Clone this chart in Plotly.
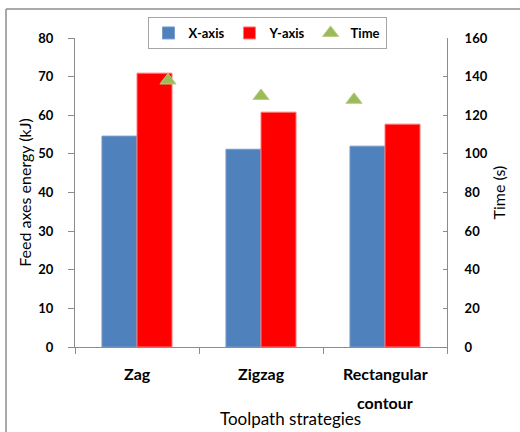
import plotly.graph_objects as go

categories = ["Zag", "Zigzag", "Rectangular contour"]
tick_labels = ["Zag", "Zigzag", "Rectangular<br>contour"]
x_axis_energy = [54.6, 51.2, 52.0]
y_axis_energy = [70.9, 60.8, 57.7]
time_s = [138, 130, 128]

FONT = "Lato"
AX = "#8C8C8C"
W, H = 520, 432
L, R, T, B = 75, 73, 38, 85
PW, PH = W - L - R, H - T - B


def px(x):
    return (x - L) / PW


def py(y):
    return (H - B - y) / PH


fig = go.Figure()
fig.add_trace(go.Bar(
    x=categories, y=x_axis_energy, name="X-axis",
    marker=dict(color="#4F81BD", line=dict(color="#7A9CCB", width=1)),
))
fig.add_trace(go.Bar(
    x=categories, y=y_axis_energy, name="Y-axis",
    marker=dict(color="#FF0000", line=dict(color="#FF7A7A", width=1)),
))
fig.add_trace(go.Scatter(
    x=categories, y=time_s, name="Time", mode="markers",
    xaxis="x2", yaxis="y2",
    marker=dict(symbol="triangle-up", size=14, color="#9BBB59",
                line=dict(color="#B5CE85", width=1)),
))

# category labels, one text line per annotation (Excel-like line spacing)
annotations = []
for cat, lab in zip(categories, tick_labels):
    for i, line in enumerate(lab.split("<br>")):
        annotations.append(dict(
            text=line, x=cat, xref="x", yref="paper",
            y=py(373 + 29 * i), xanchor="center", yanchor="middle",
            showarrow=False, font=dict(family=FONT, size=16, weight="bold"),
        ))
annotations.append(dict(
    text="Toolpath strategies", xref="paper", yref="paper",
    x=px(290), y=py(418), xanchor="center", yanchor="middle",
    showarrow=False, font=dict(family=FONT, size=17),
))

fig.update_layout(
    width=W, height=H,
    margin=dict(l=L, r=R, t=T, b=B, autoexpand=False),
    paper_bgcolor="white", plot_bgcolor="white",
    barmode="group", bargap=0.435, bargroupgap=0,
    font=dict(family=FONT, color="#000000"),
    showlegend=True,
    legend=dict(
        orientation="h", xref="container", yref="container",
        x=267 / W, y=1 - 17 / H, xanchor="center", yanchor="top",
        bordercolor="#A6A6A6", borderwidth=1, bgcolor="white",
        font=dict(family=FONT, size=13, weight="bold"),
        itemwidth=30,
    ),
    xaxis=dict(
        type="category", range=[-0.5, 2.5], automargin=False,
        showticklabels=False,
        tickson="boundaries", ticks="outside", ticklen=6, tickcolor=AX,
        showline=True, linecolor=AX, linewidth=1, showgrid=False,
    ),
    xaxis2=dict(
        type="category", range=[-1, 3], overlaying="x", visible=False,
    ),
    yaxis=dict(
        range=[0, 80], dtick=10, ticks="outside", ticklen=6, tickcolor=AX,
        showline=True, linecolor=AX, linewidth=1, showgrid=False, zeroline=False,
        tickfont=dict(family=FONT, size=13, weight="bold"),
        ticklabelstandoff=12, automargin=False,
        title=dict(text="Feed axes energy (kJ)", font=dict(family=FONT, size=16), standoff=2),
    ),
    yaxis2=dict(
        range=[0, 160], dtick=20, overlaying="y", side="right", anchor="x2",
        ticks="inside", ticklen=4, tickcolor=AX,
        showline=True, linecolor=AX, linewidth=1, showgrid=False, zeroline=False,
        tickfont=dict(family=FONT, size=13, weight="bold"),
        ticklabelstandoff=14, automargin=False,
        title=dict(text="Time (s)", font=dict(family=FONT, size=16), standoff=7),
    ),
    annotations=annotations,
    shapes=[
        dict(type="line", xref="paper", yref="paper",
             x0=px(6), x1=px(530), y0=py(9), y1=py(9),
             line=dict(color="#8C8C8C", width=1.5)),
        dict(type="line", xref="paper", yref="paper",
             x0=px(6), x1=px(6), y0=py(9), y1=py(440),
             line=dict(color="#8C8C8C", width=1.5)),
    ],
)

fig.write_html(
    "out.html",
    config={"displayModeBar": False},
    post_script="document.body.style.margin='0';document.body.style.overflow='hidden';",
)
